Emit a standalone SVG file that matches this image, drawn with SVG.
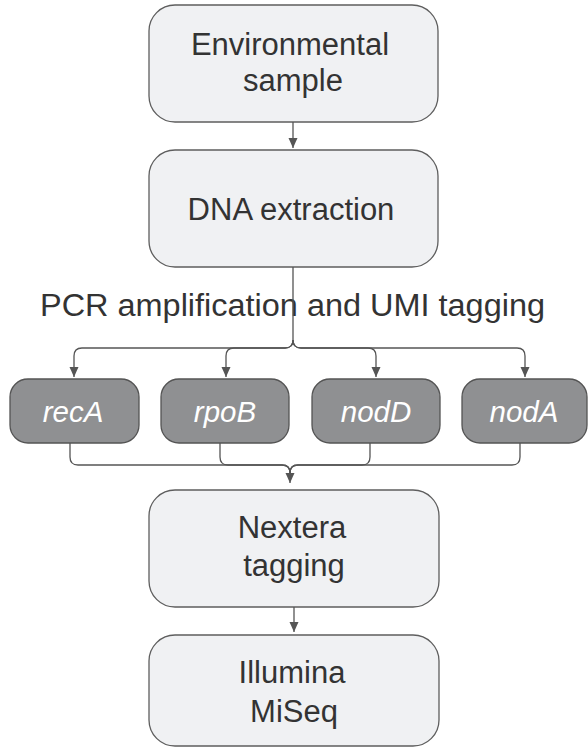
<svg xmlns="http://www.w3.org/2000/svg" width="588" height="749" viewBox="0 0 588 749">
<style>
.box{fill:#f0f1f3;stroke:#5e5e5e;stroke-width:1.3}
.gene{fill:#8f9092;stroke:#545454;stroke-width:1.3}
.t{font-family:"Liberation Sans",Arial,sans-serif;font-size:31px;fill:#333333;text-anchor:middle}
.g{font-family:"Liberation Sans",Arial,sans-serif;font-size:29.5px;font-style:italic;fill:#ffffff;text-anchor:middle}
.c{fill:none;stroke:#555;stroke-width:1.3}
</style>
<defs>
<marker id="ah" markerUnits="userSpaceOnUse" markerWidth="10" markerHeight="10" refX="10" refY="5" orient="auto">
<path d="M0,0.5 L10,5 L0,9.5 z" fill="#555"/>
</marker>
</defs>
<g id="n-env"><rect class="box" x="149" y="5" width="289" height="117" rx="26"/><text class="t" x="290" y="55">Environmental</text><text class="t" x="293" y="91">sample</text></g>
<g id="n-dna"><rect class="box" x="149" y="150" width="289" height="117" rx="26"/><text class="t" x="291" y="220">DNA extraction</text></g>
<g id="n-pcr-label"><text class="t" x="292.5" y="316" textLength="505" lengthAdjust="spacingAndGlyphs">PCR amplification and UMI tagging</text></g>
<g id="n-recA"><rect class="gene" x="10" y="379" width="129" height="64" rx="18"/><text class="g" x="73" y="422">recA</text></g>
<g id="n-rpoB"><rect class="gene" x="161" y="379" width="128" height="64" rx="18"/><text class="g" x="225" y="422">rpoB</text></g>
<g id="n-nodD"><rect class="gene" x="312" y="379" width="128" height="64" rx="18"/><text class="g" x="376" y="422">nodD</text></g>
<g id="n-nodA"><rect class="gene" x="462" y="379" width="125" height="64" rx="18"/><text class="g" x="524" y="422">nodA</text></g>
<g id="n-nextera"><rect class="box" x="149" y="490" width="290" height="117" rx="26"/><text class="t" x="292" y="538">Nextera</text><text class="t" x="294" y="576">tagging</text></g>
<g id="n-illumina"><rect class="box" x="149" y="635" width="290" height="111" rx="26"/><text class="t" x="292" y="683">Illumina</text><text class="t" x="294" y="722">MiSeq</text></g>
<g id="connectors">
<path class="c" d="M293,122 V148" marker-end="url(#ah)"/>
<path class="c" d="M293,267 V340 Q293,348 285,348 H82 Q74,348 74,356 V377" marker-end="url(#ah)"/>
<path class="c" d="M293,340 Q293,348 285,348 H234 Q226,348 226,356 V377" marker-end="url(#ah)"/>
<path class="c" d="M293,340 Q293,348 301,348 H368 Q376,348 376,356 V377" marker-end="url(#ah)"/>
<path class="c" d="M293,340 Q293,348 301,348 H517 Q525,348 525,356 V377" marker-end="url(#ah)"/>
<path class="c" d="M70,443 V457 Q70,465 78,465 H282 Q290,465 290,473 V483" marker-end="url(#ah)"/>
<path class="c" d="M220,443 V457 Q220,465 228,465 H282 Q290,465 290,473"/>
<path class="c" d="M370,443 V457 Q370,465 362,465 H298 Q290,465 290,473"/>
<path class="c" d="M520,443 V457 Q520,465 512,465 H298 Q290,465 290,473"/>
<path class="c" d="M294,607 V632" marker-end="url(#ah)"/>
</g>
</svg>
